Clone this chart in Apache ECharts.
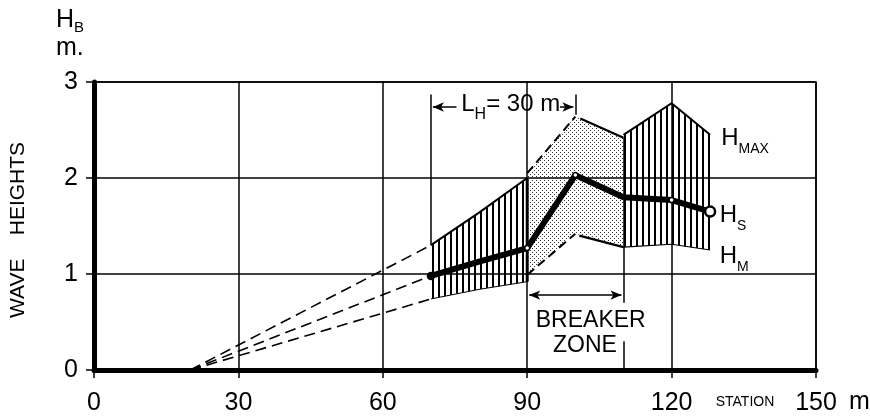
<!DOCTYPE html>
<html><head><meta charset="utf-8">
<script src="https://cdn.jsdelivr.net/npm/echarts@6/dist/echarts.min.js"></script>
<style>html,body{margin:0;padding:0;background:#fff}#c{width:870px;height:417px}</style>
</head><body><div id="c"></div>
<script>
// ---- data ----
const xTickValues = [0, 30, 60, 90, 120, 150];
const xTickLabels = ['0', '30', '60', '90', '120', '150'];
const yTickValues = [0, 1, 2, 3];
const yTickLabels = ['0', '1', '2', '3'];

const hsStations = [70, 80, 90, 100, 110, 120, 128];
const hsValues   = [0.98, 1.13, 1.27, 2.03, 1.80, 1.77, 1.65];

const hatchAStations = [70, 80, 90];
const hatchAMax      = [1.30, 1.64, 2.00];
const hatchAMin      = [0.74, 0.84, 0.92];

const stippleStations = [90, 100, 110];
const stippleMax      = [2.05, 2.64, 2.42];
const stippleMin      = [0.99, 1.42, 1.28];

const hatchBStations = [110, 120, 128];
const hatchBMax      = [2.45, 2.78, 2.45];
const hatchBMin      = [1.28, 1.31, 1.25];

const extrapOrigin = [20, 0];
const lhRange = [70, 100];
const breakerRange = [90, 110];

// ---- rendering ----
const FONT = 'Liberation Sans';
const chart = echarts.init(document.getElementById('c'));

function makePattern(w, h, draw) {
  const c = document.createElement('canvas');
  c.width = w; c.height = h;
  draw(c.getContext('2d'));
  return { image: c, repeat: 'repeat' };
}
const hatch = makePattern(6, 6, g => { g.fillStyle = '#000'; g.fillRect(0, 0, 2, 6); });
const stipple = makePattern(4, 4, g => { g.fillStyle = '#333'; g.fillRect(0, 0, 1, 1); g.fillRect(2, 2, 1, 1); });

function seg(a, b, w, dash) {
  return { type: 'polyline', shape: { points: [a, b] },
    style: { stroke: '#000', lineWidth: w, fill: null, lineDash: dash || null } };
}

function band(st, mn, mx, fill, edges) {
  return {
    type: 'custom', coordinateSystem: 'cartesian2d', silent: true, clip: false, z: 2,
    data: st.map((s, i) => [s, mn[i], mx[i]]),
    encode: { x: 0, y: [1, 2] },
    renderItem: (params, api) => {
      if (params.dataIndex !== 0) return null;
      const top = st.map((s, i) => api.coord([s, mx[i]]));
      const bot = st.map((s, i) => api.coord([s, mn[i]]));
      const children = [{ type: 'polygon', shape: { points: top.concat(bot.slice().reverse()) },
        style: { fill: fill, stroke: null } }];
      return { type: 'group', children: children.concat(edges(top, bot)) };
    }
  };
}

function ext(v70) {
  return { type: 'line', data: [extrapOrigin, [hatchAStations[0], v70]], symbol: 'none', z: 3,
    lineStyle: { color: '#000', width: 1.6, type: [11, 6] }, silent: true };
}

const hsData = hsStations.map((s, i) => {
  const sizes = [7, 0, 5, 5, 0, 5, 10];
  return { value: [s, hsValues[i]], symbolSize: sizes[i],
    itemStyle: { color: i === 0 ? '#000' : '#fff', borderColor: '#000', borderWidth: i === 6 ? 2.5 : 1.5 } };
});

const subRich = (big, small, shift) => ({
  h: { fontSize: big, fontFamily: FONT, color: '#000', verticalAlign: 'bottom', lineHeight: big, padding: [0, 0, shift, 0] },
  s: { fontSize: small, fontFamily: FONT, color: '#000', verticalAlign: 'bottom', lineHeight: small }
});

const option = {
  animation: false,
  backgroundColor: '#fff',
  grid: { left: 94, right: 54, top: 82, bottom: 47, show: true, borderColor: '#000', borderWidth: 1.5 },
  xAxis: {
    type: 'value', min: 0, max: 150, interval: 30,
    axisLine: { show: true, onZero: false, lineStyle: { color: '#000', width: 5 } },
    axisTick: { show: true, length: 8, lineStyle: { color: '#000', width: 1.5 } },
    axisLabel: { color: '#000', fontSize: 25, fontFamily: FONT, margin: 21,
      formatter: v => { const i = xTickValues.indexOf(v); return i < 0 ? '' : xTickLabels[i]; } },
    splitLine: { show: true, lineStyle: { color: '#000', width: 1.5 } }
  },
  yAxis: {
    type: 'value', min: 0, max: 3, interval: 1,
    axisLine: { show: true, onZero: false, lineStyle: { color: '#000', width: 5 } },
    axisTick: { show: true, length: 8, lineStyle: { color: '#000', width: 1.5 } },
    axisLabel: { color: '#000', fontSize: 25, fontFamily: FONT, margin: 16,
      formatter: v => { const i = yTickValues.indexOf(v); return i < 0 ? '' : yTickLabels[i]; } },
    splitLine: { show: true, lineStyle: { color: '#000', width: 1.5 } }
  },
  graphic: [
    { type: 'text', left: 56, top: 8, style: { text: '{h|H}{s|B}', rich: subRich(25, 15, 2) } },
    { type: 'text', left: 56, top: 36, style: { text: 'm.', fontSize: 25, fontFamily: FONT, fill: '#000' } },
    { type: 'text', x: 18, y: 230, rotation: Math.PI / 2,
      style: { text: 'WAVE    HEIGHTS', fontSize: 21, fontFamily: FONT, fill: '#000', align: 'center', verticalAlign: 'middle' } },
    { type: 'text', x: 745, y: 402, style: { text: 'STATION', fontSize: 14, fontFamily: FONT, fill: '#000', align: 'center', verticalAlign: 'middle' } },
    { type: 'text', x: 849, y: 402, style: { text: 'm', fontSize: 25, fontFamily: FONT, fill: '#000', align: 'left', verticalAlign: 'middle' } }
  ],
  series: [
    band(hatchAStations, hatchAMin, hatchAMax, hatch, (t, b) => [
      { type: 'polyline', shape: { points: t }, style: { stroke: '#000', lineWidth: 2, fill: null } },
      { type: 'polyline', shape: { points: b }, style: { stroke: '#000', lineWidth: 1, fill: null } },
      seg(b[2], t[2], 3)
    ]),
    band(stippleStations, stippleMin, stippleMax, stipple, (t, b) => [
      seg(t[0], t[1], 2, [9, 5]), seg([t[1][0] + 5, t[1][1] + 2], t[2], 2.2),
      seg(b[0], b[1], 2, [9, 5]), seg([b[1][0] + 4, b[1][1] + 2], b[2], 2.2)
    ]),
    band(hatchBStations, hatchBMin, hatchBMax, hatch, (t, b) => [
      { type: 'polyline', shape: { points: t }, style: { stroke: '#000', lineWidth: 2, fill: null } },
      { type: 'polyline', shape: { points: b }, style: { stroke: '#000', lineWidth: 1.2, fill: null } }
    ]),
    ext(hatchAMax[0]), ext(hsValues[0]), ext(hatchAMin[0]),
    { type: 'line', data: hsData, z: 5, symbol: 'circle', lineStyle: { color: '#000', width: 6 }, silent: true },
    {
      type: 'scatter', data: [], z: 6, silent: true,
      markLine: {
        silent: true, symbol: 'none', animation: false, label: { show: false },
        lineStyle: { color: '#000', width: 1.5, type: 'solid' },
        data: [
          [{ coord: [lhRange[0], hatchAMax[0]] }, { coord: [lhRange[0], 2.87] }],
          [{ coord: [lhRange[1], 2.66] }, { coord: [lhRange[1], 2.87] }],
          [{ coord: [breakerRange[1], 0.70] }, { coord: [breakerRange[1], stippleMax[2]] }],
          [{ coord: [breakerRange[1], 0] }, { coord: [breakerRange[1], 0.30] }],
          [{ coord: [75.3, 2.74], symbol: 'none' }, { coord: [lhRange[0] + 0.4, 2.74], symbol: 'arrow', symbolSize: [7, 11] }],
          [{ coord: [96.8, 2.74], symbol: 'none' }, { coord: [lhRange[1] - 0.4, 2.74], symbol: 'arrow', symbolSize: [7, 11] }],
          [{ coord: [breakerRange[0] + 0.4, 0.78], symbol: 'arrow', symbolSize: [7, 11] },
           { coord: [breakerRange[1] - 0.4, 0.78], symbol: 'arrow', symbolSize: [7, 11] }]
        ]
      },
      markPoint: {
        silent: true, animation: false, symbol: 'circle', symbolSize: 0,
        itemStyle: { color: 'transparent' },
        label: { show: true, position: 'right', distance: 0, color: '#000', fontFamily: FONT },
        data: [
          { coord: [76.3, 2.70], label: { formatter: '{h|L}{s|H}{h|= 30 m}', rich: subRich(24, 16, 6) } },
          { coord: [130.3, 2.35], label: { formatter: '{h|H}{s|MAX}', rich: subRich(24, 14, 6) } },
          { coord: [130.0, 1.55], label: { formatter: '{h|H}{s|S}', rich: subRich(24, 14, 6) } },
          { coord: [130.0, 1.12], label: { formatter: '{h|H}{s|M}', rich: subRich(24, 14, 6) } },
          { coord: [103.2, 0.51], label: { position: 'inside', formatter: 'BREAKER', fontSize: 23 } },
          { coord: [102.0, 0.25], label: { position: 'inside', formatter: 'ZONE', fontSize: 23 } }
        ]
      }
    }
  ]
};
chart.setOption(option);
</script></body></html>
